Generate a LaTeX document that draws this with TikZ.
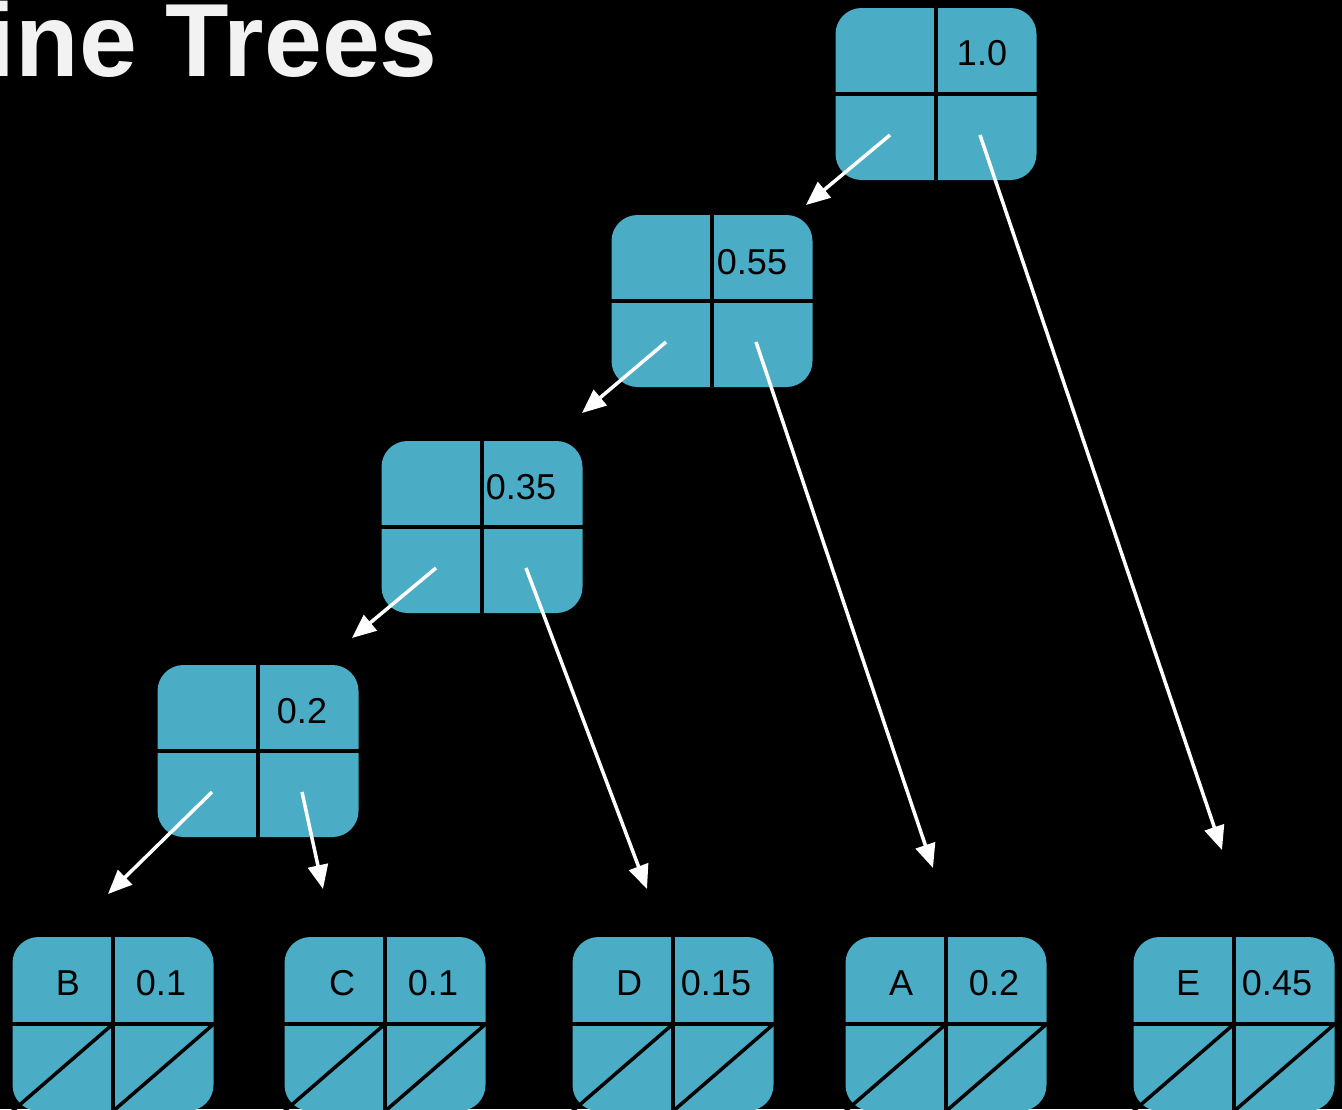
\documentclass[tikz,border=0pt]{standalone}
\usepackage{fontspec}
\setmainfont{Liberation Sans}
\usetikzlibrary{arrows.meta,calc}
\definecolor{boxfill}{RGB}{75,172,198}
\definecolor{titlecol}{RGB}{242,242,242}
\tikzset{
  treebox/.style={fill=boxfill, rounded corners=26pt, minimum width=201pt, minimum height=172pt, inner sep=0pt},
  divline/.style={draw=black, line width=3.5pt},
  lbl/.style={font=\fontsize{36}{36}\selectfont, text=black, inner sep=0pt, anchor=center},
  arr/.style={draw=white, line width=3.5pt, -{Triangle[length=24pt,width=20pt]}}
}
\begin{document}
\begin{tikzpicture}[x=1pt,y=-1pt]
\fill[black] (0,0) rectangle (1342,1109);
\useasboundingbox (0,0) rectangle (1342,1109);
\clip (0,0) rectangle (1342,1109);
% title
\node[anchor=base east, inner sep=0pt, text=titlecol, font=\bfseries\fontsize{104}{104}\selectfont] (title) at (438,76) {ine Trees};
% internal nodes
\node[treebox] (n1) at (936,94) {};
\node[treebox] (n2) at (712,301) {};
\node[treebox] (n3) at (482,527) {};
\node[treebox] (n4) at (258,751) {};
\foreach \n in {n1,n2,n3,n4}{
  \draw[divline] (\n.north) -- (\n.south);
  \draw[divline] (\n.west) -- (\n.east);
}
\node[lbl] (v1) at (982,53) {1.0};
\node[lbl] (v2) at (752,262) {0.55};
\node[lbl] (v3) at (521,487) {0.35};
\node[lbl] (v4) at (302,711) {0.2};
% leaves
\node[treebox, minimum height=174pt] (lb) at (113,1024) {};
\node[treebox, minimum height=174pt] (lc) at (385,1024) {};
\node[treebox, minimum height=174pt] (ld) at (673,1024) {};
\node[treebox, minimum height=174pt] (la) at (946,1024) {};
\node[treebox, minimum height=174pt] (le) at (1234,1024) {};
\foreach \n in {lb,lc,ld,la,le}{
  \draw[divline] (\n.north) -- (\n.south);
  \draw[divline] (\n.west) -- (\n.east);
  \draw[divline] (\n.center) -- (\n.south west);
  \draw[divline] (\n.east) -- (\n.south);
}
\node[lbl] (tb) at (68,983) {B};
\node[lbl] (wb) at (161,983) {0.1};
\node[lbl] (tc) at (342,983) {C};
\node[lbl] (wc) at (433,983) {0.1};
\node[lbl] (td) at (629,983) {D};
\node[lbl] (wd) at (716,983) {0.15};
\node[lbl] (ta) at (901,983) {A};
\node[lbl] (wa) at (994,983) {0.2};
\node[lbl] (te) at (1188,983) {E};
\node[lbl] (we) at (1277,983) {0.45};
% arrow start points
\foreach \n in {n1,n2,n3,n4}{
  \coordinate (\n L) at ($(\n.center)+(-46,41)$);
  \coordinate (\n R) at ($(\n.center)+(44,41)$);
}
% arrow tips
\coordinate (t1L) at (806,205);
\coordinate (t1R) at (1222,850);
\coordinate (t2L) at (582,413);
\coordinate (t2R) at (933,868);
\coordinate (t3L) at (352,638);
\coordinate (t3R) at (647,889);
\coordinate (t4L) at (108,894);
\coordinate (t4R) at (323,889);
\draw[arr] (n1L) -- (t1L);
\draw[arr] (n1R) -- (t1R);
\draw[arr] (n2L) -- (t2L);
\draw[arr] (n2R) -- (t2R);
\draw[arr] (n3L) -- (t3L);
\draw[arr] (n3R) -- (t3R);
\draw[arr] (n4L) -- (t4L);
\draw[arr] (n4R) -- (t4R);
\end{tikzpicture}
\end{document}
